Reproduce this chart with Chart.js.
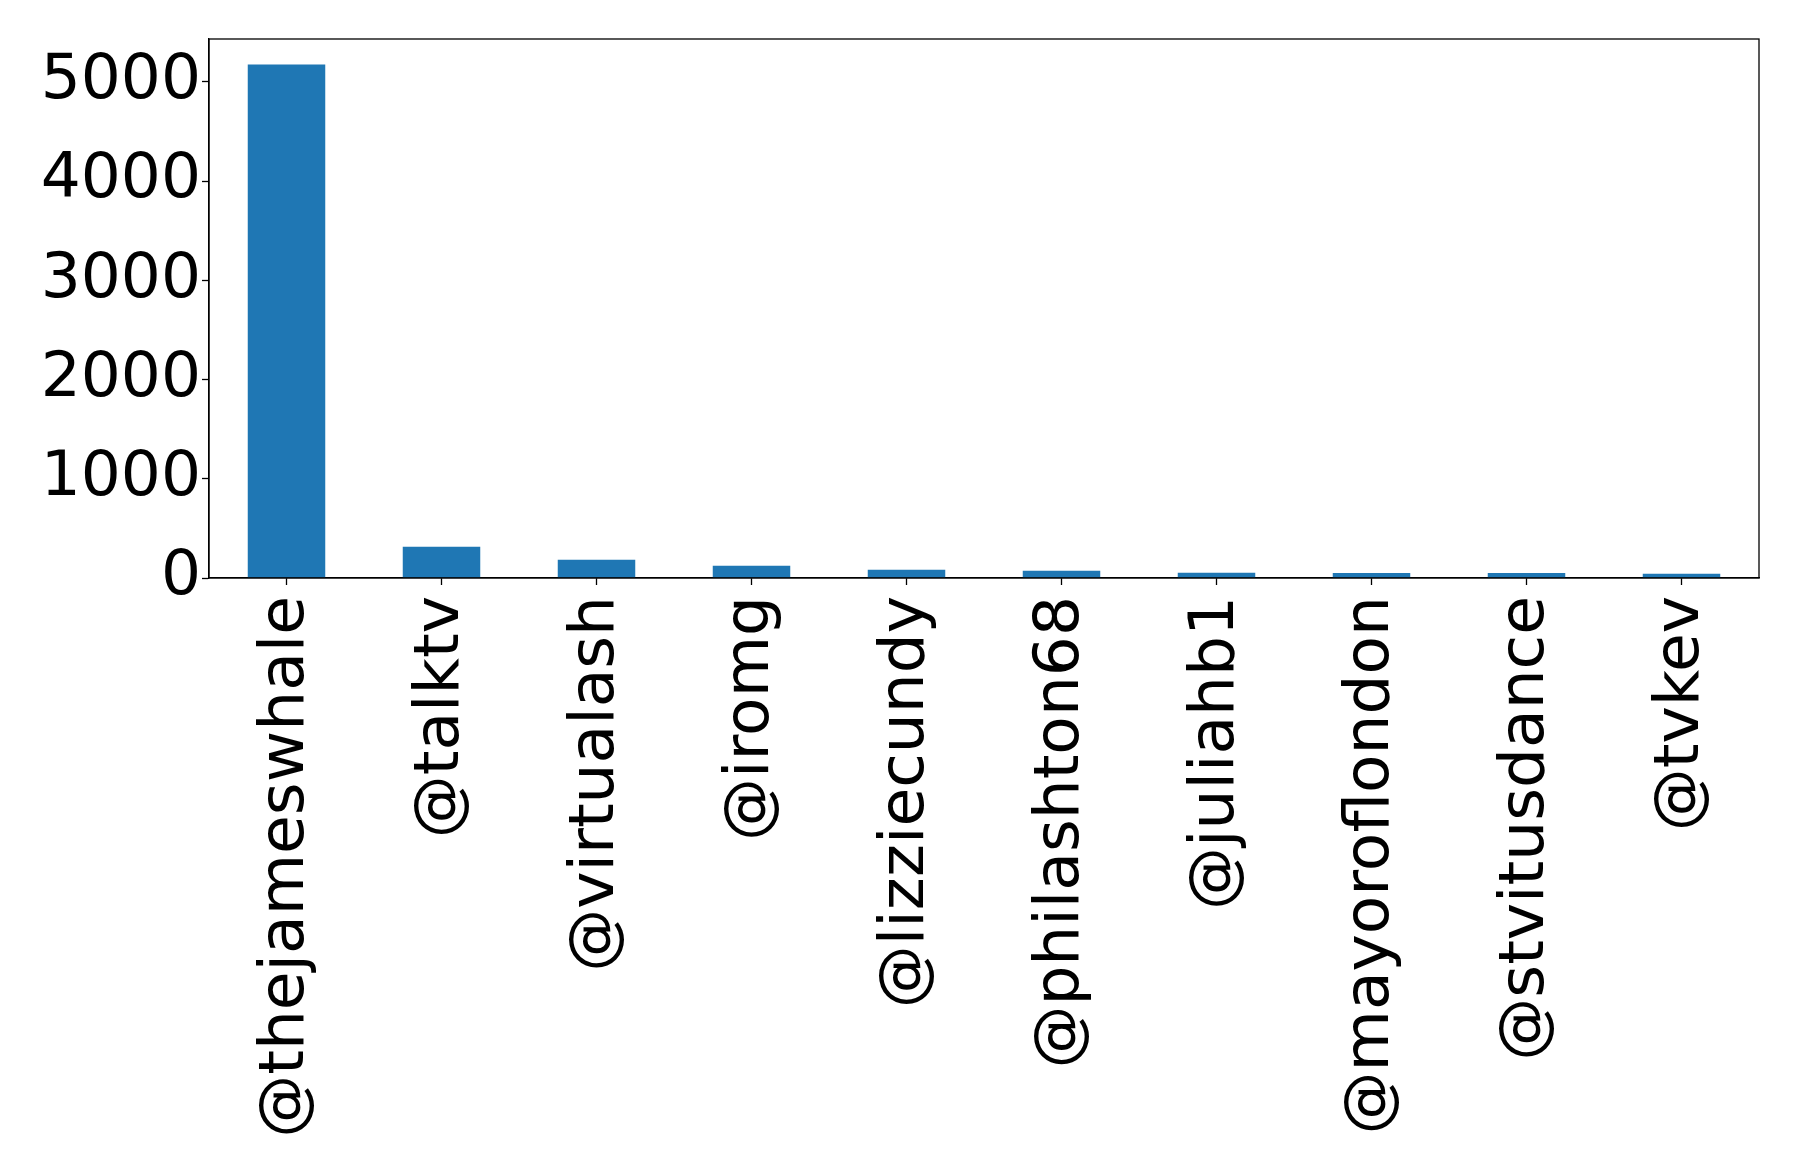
<!DOCTYPE html>
<html>
<head>
<meta charset="utf-8">
<script src="https://cdn.jsdelivr.net/npm/chart.js@4.4.0/dist/chart.umd.min.js"></script>
<style>
    html, body { margin: 0; padding: 0; background: #fff; }
    #wrap { width: 1798px; height: 1165px; }
</style>
</head>
<body>
<div id="wrap"><canvas id="mentionsChart" width="1798" height="1165"></canvas></div>
<script>
// 被提及账号 / 次数
const accounts = ['@thejameswhale', '@talktv', '@virtualash', '@iromg', '@lizziecundy',
    '@philashton68', '@juliahb1', '@mayoroflondon', '@stvitusdance', '@tvkev'];
const mentionCounts = [5174, 316, 184, 124, 82, 72, 52, 51, 50, 42];
const yTicks = [0, 1000, 2000, 3000, 4000, 5000];
const yMax = 5432;

const FONT = { family: '"DejaVu Sans", sans-serif', size: 63 };

// 画四边框（matplotlib 风格）
const frameBox = {
    id: 'frameBox',
    afterDraw(chart) {
        const { ctx, chartArea: a } = chart;
        ctx.save();
        ctx.strokeStyle = '#000';
        ctx.lineWidth = 1.3;
        ctx.strokeRect(a.left, a.top, a.right - a.left, a.bottom - a.top);
        ctx.restore();
    }
};

new Chart(document.getElementById('mentionsChart'), {
    type: 'bar',
    data: {
        labels: accounts,
        datasets: [{
            data: mentionCounts,
            backgroundColor: '#1f77b4',
            borderWidth: 0,
            categoryPercentage: 0.5,
            barPercentage: 1.0
        }]
    },
    options: {
        responsive: false,
        animation: false,
        devicePixelRatio: 1,
        layout: { padding: { top: 39, right: 39, left: 0, bottom: 0 } },
        plugins: { legend: { display: false }, tooltip: { enabled: false } },
        scales: {
            x: {
                offset: true,
                grid: { display: true, drawOnChartArea: false, tickLength: 7, tickColor: '#000', tickWidth: 1.3, offset: false },
                border: { display: true, color: '#000', width: 1.3 },
                ticks: {
                    color: '#000',
                    font: FONT,
                    minRotation: 90,
                    maxRotation: 90,
                    padding: 11,
                    autoSkip: false
                },
                afterFit(scale) {
                    scale.height = 1165 - 578;
                    scale.paddingLeft = 0;
                    scale.paddingRight = 0;
                }
            },
            y: {
                min: 0,
                max: yMax,
                grid: { display: true, drawOnChartArea: false, tickLength: 7, tickColor: '#000', tickWidth: 1.3 },
                border: { display: true, color: '#000', width: 1.3 },
                afterBuildTicks(scale) { scale.ticks = yTicks.map(v => ({ value: v })); },
                ticks: {
                    color: '#000',
                    font: FONT,
                    padding: 1,
                    includeBounds: false,
                    callback: v => String(v)
                },
                afterFit(scale) {
                    scale.width = 209;
                    scale.paddingTop = 0;
                    scale.paddingBottom = 0;
                }
            }
        }
    },
    plugins: [frameBox]
});
</script>
</body>
</html>
